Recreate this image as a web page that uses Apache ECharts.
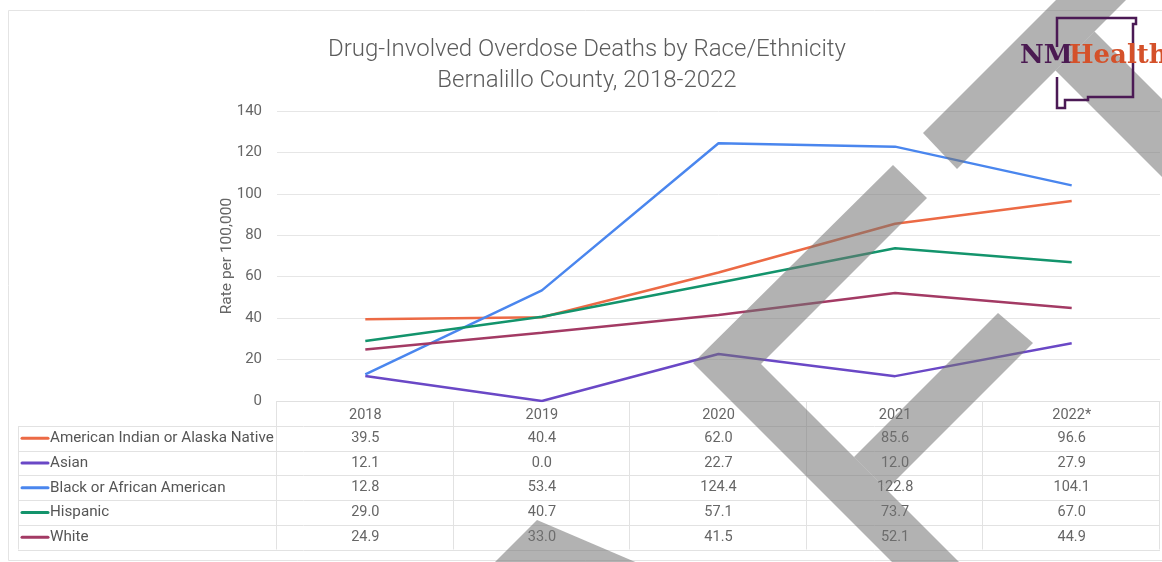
<!DOCTYPE html>
<html>
<head>
<meta charset="utf-8">
<script src="https://cdn.jsdelivr.net/npm/echarts@6/dist/echarts.min.js"></script>
<style>
  html, body { margin: 0; padding: 0; background: #ffffff; }
  #chart { width: 1162px; height: 562px; }
</style>
</head>
<body>
<div id="chart"></div>
<script>
// ---- data ----
const categories = ['2018', '2019', '2020', '2021', '2022*'];
const seriesNames = ['American Indian or Alaska Native', 'Asian', 'Black or African American', 'Hispanic', 'White'];
const aianValues = [39.5, 40.4, 62.0, 85.6, 96.6];
const asianValues = [12.1, 0.0, 22.7, 12.0, 27.9];
const blackValues = [12.8, 53.4, 124.4, 122.8, 104.1];
const hispanicValues = [29.0, 40.7, 57.1, 73.7, 67.0];
const whiteValues = [24.9, 33.0, 41.5, 52.1, 44.9];
const yMin = 0, yMax = 140, yInterval = 20;
const titleLines = ['Drug-Involved Overdose Deaths by Race/Ethnicity', 'Bernalillo County, 2018-2022'];
const yAxisName = 'Rate per 100,000';

const allValues = [aianValues, asianValues, blackValues, hispanicValues, whiteValues];
const colors = ['#EC6A45', '#6A48C6', '#4A86EE', '#13946C', '#A33A64'];
const FONT = 'Roboto';

const chart = echarts.init(document.getElementById('chart'), null, { renderer: 'canvas' });

const series = seriesNames.map((name, i) => ({
  name: name,
  type: 'line',
  data: allValues[i],
  symbol: 'none',
  smooth: false,
  lineStyle: { width: 2.5, color: colors[i] },
  itemStyle: { color: colors[i] },
  z: 3
}));

chart.setOption({
  backgroundColor: '#ffffff',
  animation: false,
  title: {
    text: titleLines.join('\n'),
    left: 582,
    top: 29,
    textAlign: 'center',
    textStyle: { fontFamily: FONT, fontSize: 24, fontWeight: 300, color: '#5c5c5c', lineHeight: 31 }
  },
  grid: { left: 277, right: 2, top: 111, bottom: 161, containLabel: false },
  xAxis: {
    type: 'category',
    data: categories,
    boundaryGap: true,
    axisLine: { show: true, lineStyle: { color: '#e0e0e0', width: 1 } },
    axisTick: { show: false },
    axisLabel: { fontFamily: FONT, fontSize: 14.5, color: '#666666', margin: 7 },
    splitLine: { show: false }
  },
  yAxis: {
    type: 'value',
    min: yMin, max: yMax, interval: yInterval,
    name: yAxisName,
    nameLocation: 'middle',
    nameGap: 42,
    nameMoveOverlap: false,
    nameTextStyle: { fontFamily: FONT, fontSize: 15.5, color: '#666666' },
    axisLine: { show: false },
    axisTick: { show: false },
    axisLabel: { fontFamily: FONT, fontSize: 15, color: '#666666', margin: 15 },
    splitLine: { lineStyle: { color: '#e6e6e6', width: 1 } }
  },
  series: series
});

// ---- table + decorations, positioned via the chart's own scales ----
function buildGraphics() {
  const g = [];
  const lineColor = '#e2e2e2';
  const centers = categories.map((c, i) => chart.convertToPixel({ xAxisIndex: 0 }, i));
  const band = centers.length > 1 ? (centers[1] - centers[0]) : 176;
  const colEdges = [centers[0] - band / 2].concat(centers.map(c => c + band / 2));
  const tableTop = chart.convertToPixel({ yAxisIndex: 0 }, yMin);
  const headerH = 25;
  const rowH = 24.7;
  const tableLeft = 18;
  const rowsTop = tableTop + headerH;
  const tableBottom = rowsTop + rowH * seriesNames.length;
  const right = colEdges[colEdges.length - 1];

  // outer border
  g.push({ type: 'rect', shape: { x: 8.5, y: 10.5, width: 1170, height: 550 }, style: { fill: null, stroke: '#e4e4e4', lineWidth: 1 }, z: 0, silent: true });

  // horizontal lines
  for (let r = 0; r <= seriesNames.length; r++) {
    const y = Math.round(rowsTop + r * rowH) + 0.5;
    g.push({ type: 'line', shape: { x1: tableLeft, y1: y, x2: right, y2: y }, style: { stroke: lineColor, lineWidth: 1 }, z: 1, silent: true });
  }
  // vertical lines
  g.push({ type: 'line', shape: { x1: tableLeft + 0.5, y1: rowsTop, x2: tableLeft + 0.5, y2: tableBottom }, style: { stroke: lineColor, lineWidth: 1 }, z: 1, silent: true });
  colEdges.forEach(x => {
    const xx = Math.round(x) - 0.5;
    g.push({ type: 'line', shape: { x1: xx, y1: tableTop, x2: xx, y2: tableBottom }, style: { stroke: lineColor, lineWidth: 1 }, z: 1, silent: true });
  });

  // rows: legend key + name + values
  seriesNames.forEach((name, r) => {
    const cy = rowsTop + r * rowH + rowH / 2;
    g.push({ type: 'line', shape: { x1: 22, y1: cy, x2: 48, y2: cy }, style: { stroke: colors[r], lineWidth: 3, lineCap: 'round' }, z: 2, silent: true });
    g.push({ type: 'text', x: 50, y: cy, style: { text: name, fontFamily: FONT, fontSize: 15.2, fill: '#555555', textAlign: 'left', textVerticalAlign: 'middle' }, z: 2, silent: true });
    allValues[r].forEach((v, c) => {
      g.push({ type: 'text', x: centers[c], y: cy, style: { text: v.toFixed(1), fontFamily: FONT, fontSize: 14.5, fill: '#666666', textAlign: 'center', textVerticalAlign: 'middle' }, z: 2, silent: true });
    });
  });

  // translucent gray watermark stripes
  const stripeStyle = { fill: 'rgba(115,115,115,0.55)', stroke: null };
  const stripes = [
    [[1056, 0], [1126, 0], [957, 169], [923, 133]],
    [[1094.5, 31.5], [1200, 137], [1200, 215], [1055.5, 70.5]],
    [[893, 165], [927, 198], [761, 364], [959, 562], [892, 562], [693, 363]],
    [[998, 313], [1033, 343], [886.5, 489.5], [854, 457]],
    [[537, 520], [640, 564], [493, 564]]
  ];
  stripes.forEach(pts => g.push({ type: 'polygon', shape: { points: pts }, style: stripeStyle, z: 50, silent: true }));

  // NMHealth logo (drawn above the stripes)
  g.push({ type: 'polyline', shape: { points: [[1057, 47], [1057, 18], [1136, 18], [1136, 24], [1133, 24], [1133, 97], [1088, 97], [1088, 100], [1065, 100], [1065, 108], [1057, 108], [1057, 77]] },
           style: { stroke: '#4b1a55', lineWidth: 2.5, fill: null }, z: 60, silent: true });
  g.push({ type: 'text', x: 1020, y: 69, style: { text: 'NM', fontFamily: 'DejaVu Serif', fontWeight: 'bold', fontSize: 26, fill: '#4b1a52', textAlign: 'left', textVerticalAlign: 'bottom' }, z: 61, silent: true });
  g.push({ type: 'text', x: 1069, y: 69, style: { text: 'Health', fontFamily: 'DejaVu Serif', fontWeight: 'bold', fontSize: 26, fill: '#d4512a', textAlign: 'left', textVerticalAlign: 'bottom' }, z: 61, silent: true });

  return g;
}

chart.setOption({ graphic: buildGraphics() });
</script>
</body>
</html>
